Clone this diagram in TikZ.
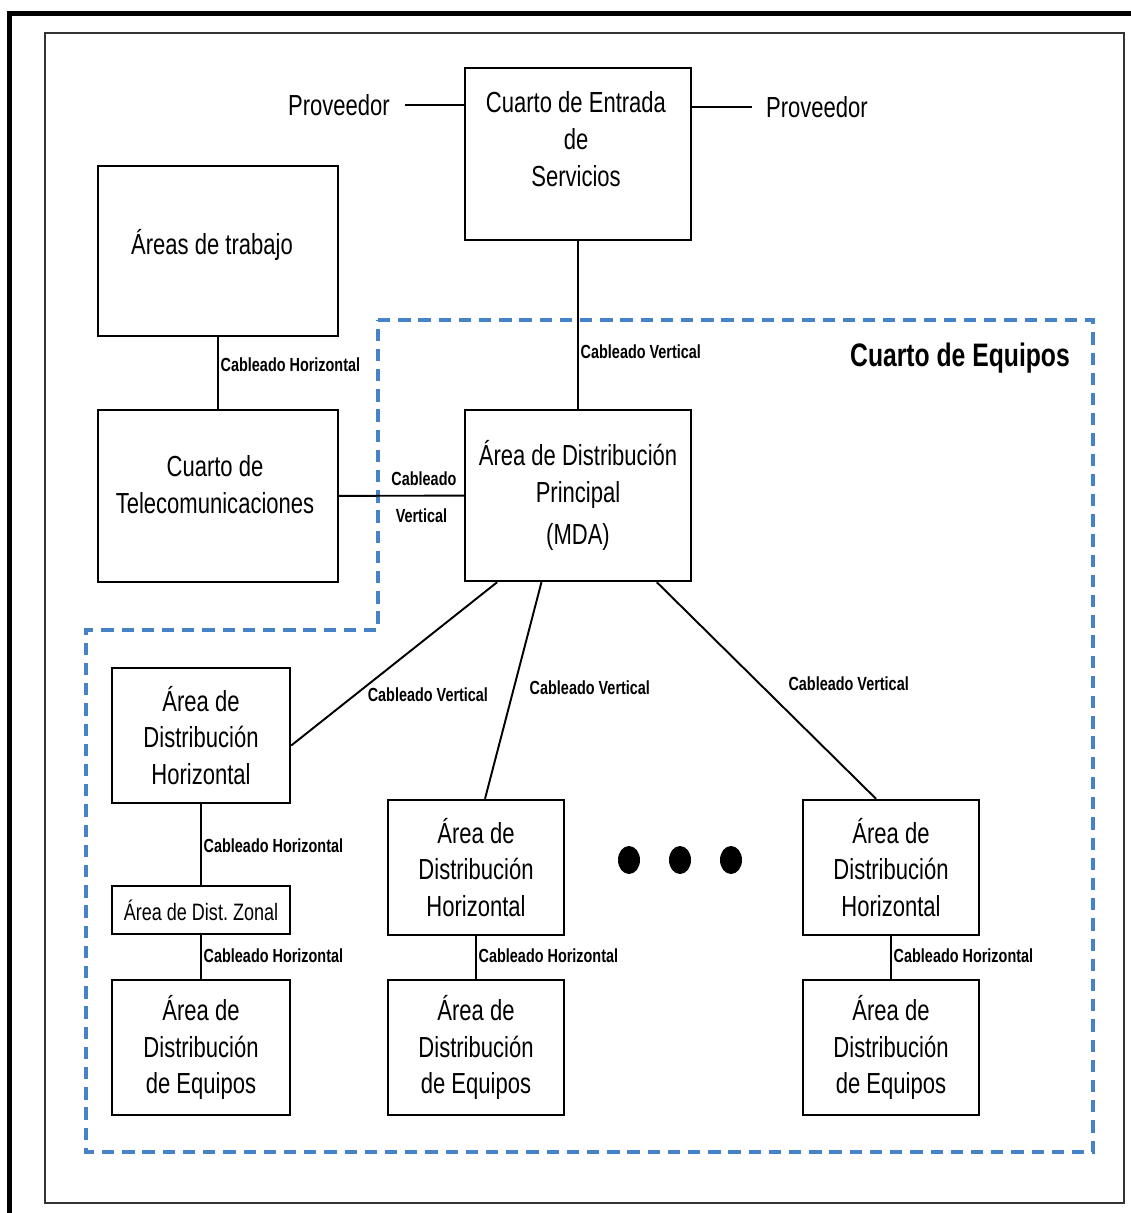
\documentclass[tikz,border=0pt]{standalone}
\usepackage{fontspec}
\setmainfont[FakeStretch=0.76]{Liberation Sans}
\usetikzlibrary{calc}
\definecolor{azulequipos}{RGB}{70,130,200}

\begin{document}
\begin{tikzpicture}[x=0.02cm, y=-0.02cm,
    caja/.style={draw, line width=1.4pt, align=center, inner sep=0pt,
      font=\fontsize{16.5}{21}\selectfont},
    etiq/.style={font=\bfseries\fontsize{10.8}{13}\selectfont, inner sep=1pt},
    texto/.style={font=\fontsize{16.5}{21}\selectfont, inner sep=0pt, align=center},
    conector/.style={line width=1.1pt}]
        \useasboundingbox (0,0) rectangle (1131,1213);
        % marcos
        \draw[line width=2.8pt] (9.5,1213) -- (9.5,13.5) -- (1131,13.5);
        \draw[line width=1.1pt, black!80] (45,33) rectangle (1124,1203);
        % cuarto de equipos
        \draw[azulequipos, line width=2.2pt, dash pattern=on 7pt off 4.5pt]
            (378,320) -- (1093,320) -- (1093,1152) -- (86,1152) -- (86,630) -- (378,630) -- cycle;
        \node[font=\bfseries\fontsize{18.5}{22}\selectfont] (equipos) at (960,358) {Cuarto de Equipos};

        \node[caja, minimum width=4.52cm, minimum height=3.44cm] (cer) at (578,154) {};
        \node[texto] (certexto) at (576,139) {Cuarto de Entrada\\de\\Servicios};
        \node[caja, minimum width=4.8cm, minimum height=3.4cm] (trabajo) at (218,251) {};
        \node[texto] (trabajotexto) at (212,245) {Áreas de trabajo};
        \node[caja, minimum width=4.8cm, minimum height=3.44cm] (telecom) at (218,496) {};
        \node[texto] (telecomtexto) at (215,485) {Cuarto de\\Telecomunicaciones};
        \node[caja, minimum width=4.52cm, minimum height=3.42cm] (mda) at (578,495.5) {Área de Distribución\\Principal\\[3pt](MDA)};

        \node[caja, minimum width=3.56cm, minimum height=2.7cm] (hda1) at (201,735.5) {Área de\\Distribución\\Horizontal};
        \node[caja, minimum width=3.56cm, minimum height=0.96cm, font=\fontsize{13.5}{16}\selectfont] (zonal) at (201,910) {Área de Dist.\ Zonal};
        \node[caja, minimum width=3.56cm, minimum height=2.7cm] (eda1) at (201,1047.5) {Área de\\Distribución\\de Equipos};
        \node[caja, minimum width=3.52cm, minimum height=2.7cm] (hda2) at (476,867.5) {Área de\\Distribución\\Horizontal};
        \node[caja, minimum width=3.52cm, minimum height=2.7cm] (eda2) at (476,1047.5) {Área de\\Distribución\\de Equipos};
        \node[caja, minimum width=3.52cm, minimum height=2.7cm] (hda3) at (891,867.5) {Área de\\Distribución\\Horizontal};
        \node[caja, minimum width=3.52cm, minimum height=2.7cm] (eda3) at (891,1047.5) {Área de\\Distribución\\de Equipos};

        \node[texto] (provizq) at (339,105) {Proveedor};
        \node[texto] (provder) at (817,107) {Proveedor};
        \draw[conector] ([xshift=0.3cm]provizq.east) -- (provizq.east -| cer.west);
        \draw[conector] (cer.east |- provder.west) -- ([xshift=-0.28cm]provder.west);

        \draw[conector] (trabajo) -- node[etiq, right, pos=0.39] {Cableado Horizontal} (telecom);
        \draw[conector] (cer) -- node[etiq, right, pos=0.66] {Cableado Vertical} (mda);
        \draw[conector] (telecom) -- node[etiq, above=4pt, pos=0.68] {Cableado}
            node[etiq, below=6pt, pos=0.66] {Vertical} (mda);

        \draw[conector] ($(mda.south west)!0.146!(mda.south east)$) --
            node[etiq, pos=0.69, anchor=west, xshift=0.2cm] {Cableado Vertical} ($(hda1.east)+(0,10)$);
        \draw[conector] ($(mda.south west)!0.34!(mda.south east)$) --
            node[etiq, pos=0.486, anchor=west, xshift=0.26cm] {Cableado Vertical} ($(hda2.north)+(9,0)$);
        \draw[conector] ($(mda.south west)!0.845!(mda.south east)$) --
            node[etiq, pos=0.47, anchor=west, xshift=0.52cm] {Cableado Vertical} ($(hda3.north)+(-15,0)$);

        \draw[conector] (hda1) -- node[etiq, right, pos=0.52] {Cableado Horizontal} (zonal);
        \draw[conector] (zonal) -- node[etiq, right, pos=0.46] {Cableado Horizontal} (eda1);
        \draw[conector] (hda2) -- node[etiq, right, pos=0.46] {Cableado Horizontal} (eda2);
        \draw[conector] (hda3) -- node[etiq, right, pos=0.46] {Cableado Horizontal} (eda3);

        % puntos suspensivos
        \foreach \xd in {629,680,731}
            \fill (\xd,860) ellipse [x radius=0.22cm, y radius=0.28cm];
    \end{tikzpicture}
\end{document}
